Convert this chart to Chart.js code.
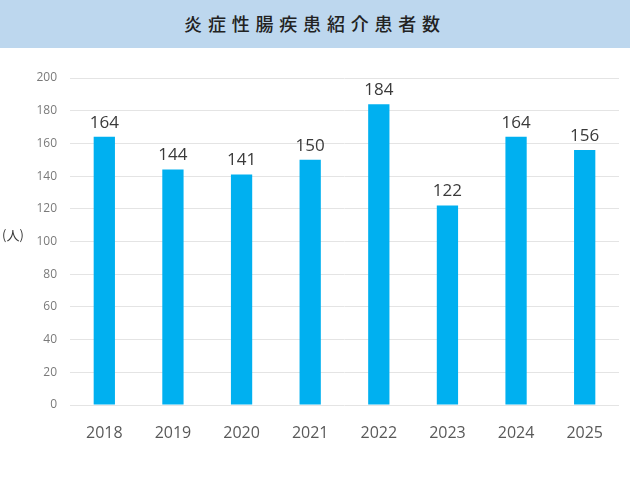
<!DOCTYPE html>
<html>
<head>
<meta charset="utf-8">
<script src="https://cdn.jsdelivr.net/npm/chart.js@4"></script>
<style>
  body { margin: 0; background: #fff; }
  #title {
    height: 48px; line-height: 46px; background: #bdd7ee; text-align: center;
    font-family: "Noto Sans CJK JP", sans-serif; font-size: 18px; font-weight: 500;
    letter-spacing: 5.8px; color: #222;
  }
  #wrap { position: relative; width: 630px; height: 432px; }
</style>
</head>
<body>
<div id="title">炎症性腸疾患紹介患者数</div>
<div id="wrap"><canvas id="chart"></canvas></div>
<script>
// chart data
const years = ['2018', '2019', '2020', '2021', '2022', '2023', '2024', '2025'];
const patients = [164, 144, 141, 150, 184, 122, 164, 156];
const yTicks = [0, 20, 40, 60, 80, 100, 120, 140, 160, 180, 200];

const FONT = '"Open Sans", "Noto Sans", sans-serif';

// value labels above each bar + the "(人)" unit label
const barLabels = {
  id: 'barLabels',
  afterDatasetsDraw(chart) {
    const ctx = chart.ctx;
    const meta = chart.getDatasetMeta(0);
    ctx.save();
    ctx.font = '17px ' + FONT;
    ctx.fillStyle = '#3a3a3a';
    ctx.textAlign = 'center';
    ctx.textBaseline = 'middle';
    meta.data.forEach((bar, i) => {
      ctx.fillText(patients[i], bar.x, bar.y - 14);
    });
    ctx.font = '13px "Noto Sans CJK JP", sans-serif';
    ctx.textAlign = 'left';
    ctx.fillText('(人)', 2, 187);
    ctx.restore();
  },
};

new Chart(document.getElementById('chart'), {
  type: 'bar',
  data: {
    labels: years,
    datasets: [{
      data: patients,
      backgroundColor: '#00b0f0',
      barPercentage: 0.31,
      categoryPercentage: 1,
    }],
  },
  options: {
    responsive: true,
    maintainAspectRatio: false,
    animation: false,
    layout: { padding: { top: 30, right: 11, left: 0, bottom: 0 } },
    plugins: { legend: { display: false }, tooltip: { enabled: false } },
    scales: {
      x: {
        grid: { display: false },
        border: { display: false },
        ticks: { color: '#595959', font: { size: 16, family: FONT }, padding: 11 },
        afterFit(axis) { axis.height = 75; },
      },
      y: {
        min: 0,
        max: 200,
        afterBuildTicks(axis) { axis.ticks = yTicks.map(v => ({ value: v })); },
        grid: { color: '#e4e4e4', drawTicks: false },
        border: { display: false },
        ticks: { color: '#7a7a7a', font: { size: 12, family: FONT }, padding: 13 },
        afterFit(axis) { axis.width = 70; },
      },
    },
  },
  plugins: [barLabels],
});
</script>
</body>
</html>
